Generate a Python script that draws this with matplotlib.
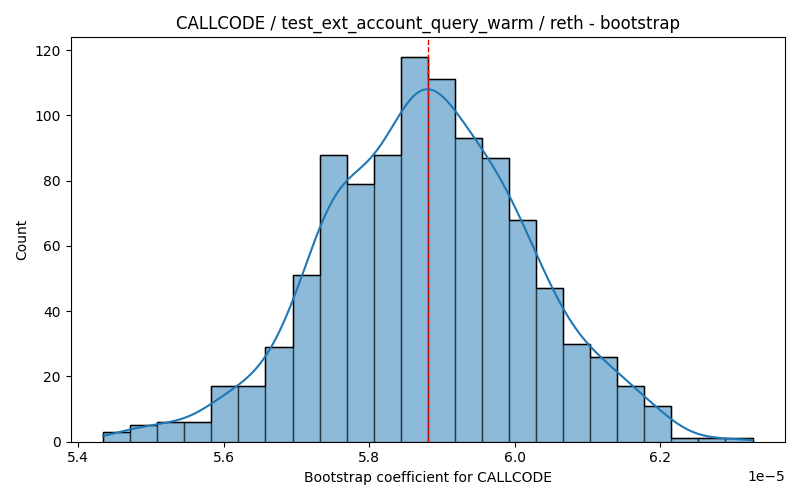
import numpy as np
import matplotlib
matplotlib.use("Agg")
import matplotlib.pyplot as plt

# Histogram bins and counts
bin_start = 5.4345e-5
bin_end = 6.327e-5
counts = [3, 5, 6, 6, 17, 17, 29, 51, 88, 79, 88, 118, 111, 93, 87, 68, 47, 30, 26, 17, 11, 1, 1, 1]
point_estimate = 5.8815e-5

title = "CALLCODE / test_ext_account_query_warm / reth - bootstrap"
xlabel = "Bootstrap coefficient for CALLCODE"
ylabel = "Count"

edges = np.linspace(bin_start, bin_end, len(counts) + 1)
centers = (edges[:-1] + edges[1:]) / 2
w = np.asarray(counts, dtype=float)

fig, ax = plt.subplots(figsize=(8, 5), dpi=100)
ax.hist(centers, bins=edges, weights=w, color="#1f77b4", alpha=0.5,
        edgecolor="black", linewidth=1)
ax.hist(centers, bins=edges, weights=w, histtype="step", color="black", linewidth=1)

# Gaussian KDE (Scott's rule on the number of samples), scaled to counts
n = w.sum()
mean = np.average(centers, weights=w)
var = np.average((centers - mean) ** 2, weights=w) * n / (n - 1)
bw = np.sqrt(var) * n ** (-1 / 5)
grid = np.linspace(edges[0], edges[-1], 200)
dens = (w[None, :] * np.exp(-0.5 * ((grid[:, None] - centers[None, :]) / bw) ** 2)).sum(1)
dens /= (n * bw * np.sqrt(2 * np.pi))
ax.plot(grid, dens * n * (edges[1] - edges[0]), color="#1f77b4", linewidth=1.5)

ax.axvline(point_estimate, color="red", linestyle="--", linewidth=1)
ax.set_title(title)
ax.set_xlabel(xlabel)
ax.set_ylabel(ylabel)
fig.tight_layout()
fig.savefig("out.png", dpi=100)
